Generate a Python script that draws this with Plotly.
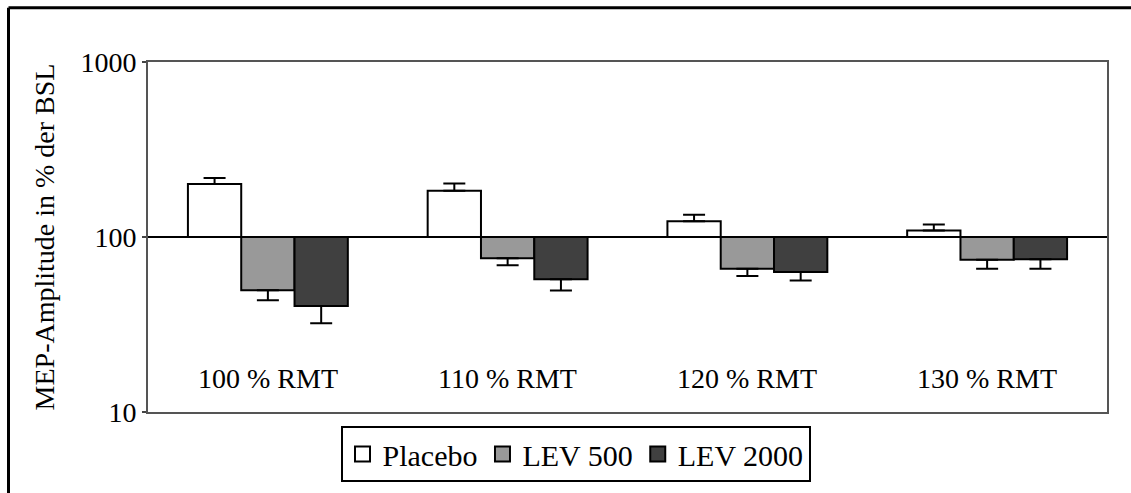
import plotly.graph_objects as go
import numpy as np

categories = ["100 % RMT", "110 % RMT", "120 % RMT", "130 % RMT"]
series_names = ["Placebo", "LEV 500", "LEV 2000"]
placebo = [201, 184, 123, 109]
placebo_cap = [217, 202, 134, 118]
lev500 = [49.6, 75.7, 65.9, 74.2]
lev500_cap = [43.5, 69, 59.8, 65.9]
lev2000 = [40.3, 57.3, 63, 74.5]
lev2000_cap = [32.1, 49.4, 56.5, 65.9]
y_ticks = [10, 100, 1000]
BASE = 100
LABEL_Y = 15.5

W, H = 1131, 493
L, R, T, B = 148, 24, 62, 80
FONT = "Liberation Serif, Times New Roman, serif"

fills = ["#ffffff", "#999999", "#404040"]
vals = [placebo, lev500, lev2000]
caps = [placebo_cap, lev500_cap, lev2000_cap]

fig = go.Figure()
for name, v, c, col in zip(series_names, vals, caps, fills):
    up = [max(ci - vi, 0) for vi, ci in zip(v, c)]
    down = [max(vi - ci, 0) for vi, ci in zip(v, c)]
    fig.add_trace(go.Bar(
        name=name, x=categories, y=[vi - BASE for vi in v], base=BASE,
        marker=dict(color=col, line=dict(color="black", width=2)),
        error_y=dict(type="data", symmetric=False, array=up, arrayminus=down,
                     color="black", thickness=2, width=11),
        showlegend=False,
    ))
# legend entries with larger square symbols
for name, col in zip(series_names, fills):
    fig.add_trace(go.Scatter(
        name=name, x=[None], y=[None], mode="markers",
        marker=dict(symbol="square", size=15, color=col, line=dict(color="black", width=2)),
        showlegend=True,
    ))

def px_x(p):
    return (p - L) / (W - L - R)

def px_y(p):
    return (H - B - p) / (H - T - B)

shapes = [
    dict(type="line", xref="paper", yref="y", x0=0, x1=1, y0=BASE, y1=BASE,
         line=dict(color="black", width=2), layer="above"),
    dict(type="line", xref="paper", yref="paper", x0=px_x(8.5), x1=px_x(8.5),
         y0=px_y(7.5), y1=px_y(H + 5), line=dict(color="black", width=3)),
    dict(type="line", xref="paper", yref="paper", x0=px_x(8.5), x1=px_x(W + 5),
         y0=px_y(7.5), y1=px_y(7.5), line=dict(color="black", width=3)),
]

annotations = [dict(x=cat, y=np.log10(LABEL_Y), xref="x", yref="y", text=cat,
                    showarrow=False, font=dict(size=28, color="black", family=FONT),
                    yanchor="middle") for cat in categories]

fig.update_layout(
    width=W, height=H,
    margin=dict(l=L, r=R, t=T, b=B),
    paper_bgcolor="white", plot_bgcolor="white",
    font=dict(family=FONT, size=28, color="black"),
    barmode="group", bargap=0.333, bargroupgap=0,
    showlegend=True,
    legend=dict(orientation="h", x=px_x(575.5), xanchor="center", y=px_y(426), yanchor="top",
                bordercolor="black", borderwidth=2, font=dict(size=30, family=FONT),
                bgcolor="white", tracegroupgap=0),
    shapes=shapes, annotations=annotations,
    xaxis=dict(type="category", range=[-0.5, 3.5], showticklabels=False, ticks="",
               showline=True, mirror=True, linecolor="#555555", linewidth=2,
               showgrid=False, zeroline=False),
    yaxis=dict(type="log", range=[1, 3], tickvals=y_ticks, ticktext=[str(t) for t in y_ticks],
               ticks="outside", ticklen=4, tickwidth=2, tickcolor="#444444",
               showline=True, mirror=True, linecolor="#555555", linewidth=2,
               showgrid=False, zeroline=False,
               title=dict(text="MEP-Amplitude in % der BSL", standoff=18,
                          font=dict(size=28, family=FONT))),
)

fig.write_html("out.html")
